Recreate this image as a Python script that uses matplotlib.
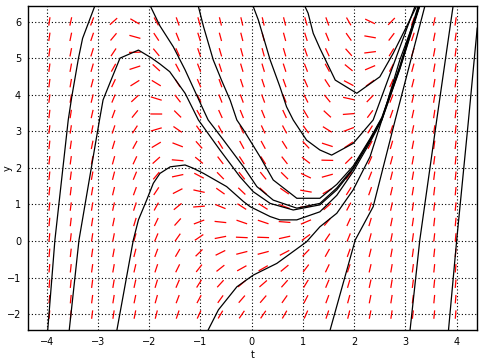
import numpy as np
import matplotlib
matplotlib.use("Agg")
from matplotlib import pyplot as plt
from matplotlib.collections import LineCollection

# axis range and ticks
t_min, t_max = -4.365, 4.396
y_min, y_max = -2.43, 6.425
t_ticks = [-4, -3, -2, -1, 0, 1, 2, 3, 4]
y_ticks = [-2, -1, 0, 1, 2, 3, 4, 5, 6]


def slope(t, y):
    # dy/dt = t^2 - y
    return t**2 - y


# solution curves (t, y)
A_t = [-3.98, -3.84, -3.58, -3.51, -3.38, -3.30, -3.06]
A_y = [-2.43, 0.03, 3.31, 3.95, 5.00, 5.54, 6.43]

B_t = [-3.56, -3.37, -2.97, -2.90, -2.73, -2.57, -2.21, -1.95, -1.79, -1.60, -1.30,
       -1.04, -0.62, -0.23, 0.03, 0.36, 0.81, 1.33, 1.66, 1.98, 2.31, 2.54, 2.89, 3.27]
B_y = [-2.43, 0.03, 3.31, 3.86, 4.45, 5.00, 5.22, 5.00, 4.84, 4.63, 4.04,
       3.31, 2.49, 1.76, 1.35, 1.03, 0.85, 0.99, 1.40, 1.97, 2.75, 3.33, 4.72, 6.43]

C_t = [-1.98, -1.79, -1.53, -1.30, -0.94, -0.85, -0.55, -0.16, 0.10, 0.42, 0.88,
       1.33, 1.66, 1.98, 2.31, 2.54, 2.89, 3.26]
C_y = [6.43, 5.88, 5.31, 4.68, 3.58, 3.31, 2.76, 2.03, 1.49, 1.12, 0.90,
       1.03, 1.45, 2.00, 2.78, 3.36, 4.75, 6.43]

D_t = [-1.04, -0.94, -0.75, -0.59, -0.42, -0.29, -0.16, 0.16, 0.42, 0.88, 1.33,
       1.66, 1.98, 2.31, 2.54, 2.89, 3.25]
D_y = [6.41, 5.86, 4.95, 4.40, 3.85, 3.31, 3.04, 2.31, 1.67, 1.17, 1.17,
       1.55, 2.05, 2.80, 3.38, 4.78, 6.43]

E_t = [0.03, 0.13, 0.36, 0.55, 0.68, 0.81, 1.07, 1.33, 1.56, 1.98, 2.37, 2.80, 3.19]
E_y = [6.41, 6.04, 4.95, 4.22, 3.67, 3.31, 2.76, 2.49, 2.35, 2.67, 3.31, 4.95, 6.43]

F_t = [1.04, 1.10, 1.20, 1.33, 1.63, 2.05, 2.50, 2.76, 3.02, 3.22]
F_y = [6.41, 6.23, 5.68, 5.27, 4.40, 4.04, 4.49, 5.13, 5.86, 6.43]

I_t = [-2.63, -2.31, -2.21, -2.05, -1.92, -1.79, -1.59, -1.30, -1.14, -0.94, -0.49,
       -0.16, -0.03, 0.36, 0.55, 0.88, 1.33, 1.66, 1.98, 2.31, 2.54, 2.89, 3.28]
I_y = [-2.43, 0.03, 0.58, 1.12, 1.58, 1.85, 2.03, 2.08, 1.99, 1.85, 1.49,
       1.08, 0.94, 0.67, 0.58, 0.58, 0.80, 1.25, 1.90, 2.70, 3.31, 4.70, 6.43]

K_t = [-0.85, -0.65, -0.29, 0.03, 0.49, 1.07, 1.33, 1.66, 1.98, 2.31, 2.54, 2.89, 3.28]
K_y = [-2.43, -1.88, -1.25, -0.93, -0.61, -0.02, 0.39, 0.76, 1.40, 2.31, 3.31, 4.95, 6.43]

J_t = [1.53, 2.02, 2.37, 2.80, 3.38]
J_y = [-2.43, 0.03, 0.94, 3.31, 6.43]

G_t = [3.09, 3.28, 3.61, 3.93]
G_y = [-2.43, 0.03, 3.31, 6.43]

H_t = [3.84, 4.00, 4.23, 4.40]
H_y = [-2.43, 0.03, 3.31, 5.82]

curves = [(A_t, A_y), (B_t, B_y), (C_t, C_y), (D_t, D_y), (E_t, E_y), (F_t, F_y),
          (I_t, I_y), (K_t, K_y), (J_t, J_y), (G_t, G_y), (H_t, H_y)]

fig = plt.figure(figsize=(4.89, 3.64), dpi=100)
ax = fig.add_axes([28 / 489, 1 - 330 / 364, 449 / 489, 324 / 364])

# direction field
n = 22
tg = np.linspace(t_min, t_max, n)[1:-1]
yg = np.linspace(y_min, y_max, n)[1:-1]
T, Y = np.meshgrid(tg, yg)
S = slope(T, Y)
seg_len = 0.23
dt = seg_len / 2 / np.sqrt(1 + S**2)
dy = S * dt
segs = np.stack([np.stack([T - dt, Y - dy], -1), np.stack([T + dt, Y + dy], -1)], -2)
ax.add_collection(LineCollection(segs.reshape(-1, 2, 2), colors="red", linewidths=0.9))

for ct, cy in curves:
    ax.plot(ct, cy, color="black", lw=0.9)

ax.set_xlim(t_min, t_max)
ax.set_ylim(y_min, y_max)
ax.set_xticks(t_ticks)
ax.set_yticks(y_ticks)
ax.grid(True, color="black", linestyle=(0, (1, 2)), linewidth=0.8)
ax.tick_params(length=0, labelsize=7, pad=5)
ax.set_xlabel("t", fontsize=7, labelpad=2)
ax.set_ylabel("y", fontsize=7)
ax.yaxis.set_label_coords(-0.034, 0.5)
for s in ax.spines.values():
    s.set_linewidth(1.0)

fig.savefig("out.png", dpi=100)
